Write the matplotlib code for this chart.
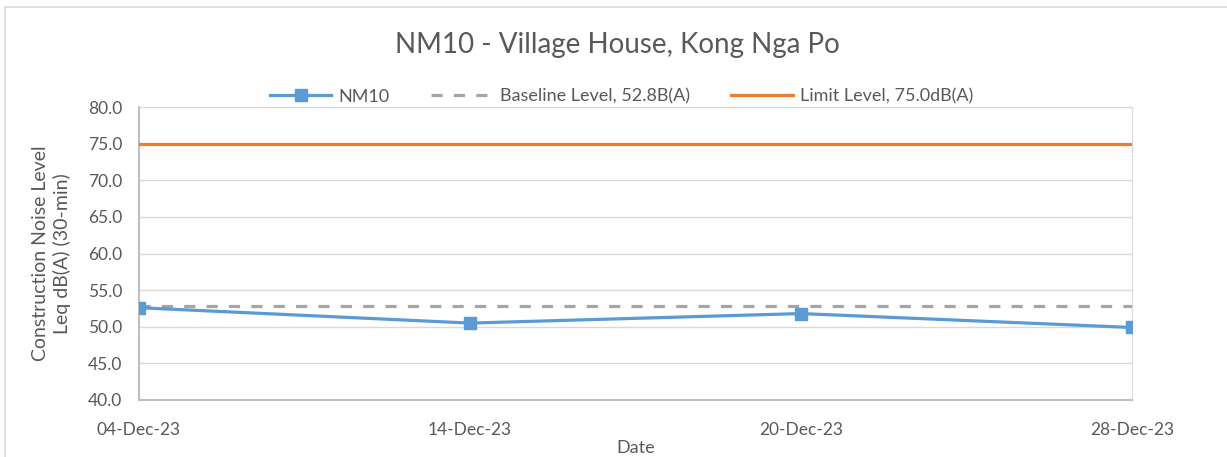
import numpy as np
import matplotlib.pyplot as plt
from matplotlib.patches import Rectangle

# Datos
dates = ["04-Dec-23", "14-Dec-23", "20-Dec-23", "28-Dec-23"]
nm10 = [52.6, 50.5, 51.8, 49.9]
baseline = 52.8
limit = 75.0
y_ticks = [40, 45, 50, 55, 60, 65, 70, 75, 80]

plt.rcParams['font.family'] = ['Lato', 'DejaVu Sans']

fig = plt.figure(figsize=(12.27, 4.57), dpi=100)
ax = fig.add_axes([139 / 1227, 1 - 400 / 457, (1132 - 139) / 1227, (400 - 107) / 457])

# Borde exterior del gráfico
fig.patches.append(Rectangle((5 / 1227, -0.1), 1.2, 1 - 7 / 457 + 0.1,
                             transform=fig.transFigure, fill=False,
                             edgecolor="#d9d9d9", linewidth=1.2))

x = np.arange(len(dates))
ax.plot(x, nm10, color="#5b9bd5", linewidth=2.3, marker="s", markersize=9,
        label="NM10", zorder=4)
ax.plot([x[0], x[-1]], [baseline, baseline], color="#a5a5a5", linewidth=2.3,
        linestyle=(0, (3.5, 3.5)), label="Baseline Level, 52.8B(A)", zorder=3)
ax.plot([x[0], x[-1]], [limit, limit], color="#ed7d31", linewidth=2.3,
        label="Limit Level, 75.0dB(A)", zorder=3)

ax.set_xlim(x[0], x[-1])
ax.set_ylim(40, 80)
ax.set_yticks(y_ticks)
ax.set_yticklabels([f"{v:.1f}" for v in y_ticks])
ax.set_xticks(x)
ax.set_xticklabels(dates)
ax.tick_params(length=0, labelsize=12.5, colors="#595959")
ax.tick_params(axis="x", pad=16)
ax.tick_params(axis="y", pad=12)
ax.grid(axis="y", color="#d9d9d9", linewidth=1)
ax.set_axisbelow(True)

for s in ["top", "right"]:
    ax.spines[s].set_color("#d9d9d9")
for s in ["left", "bottom"]:
    ax.spines[s].set_color("#bfbfbf")
    ax.spines[s].set_linewidth(1.5)

ax.set_xlabel("Date", fontsize=13, color="#595959", labelpad=1)
ax.set_ylabel("Construction Noise Level\nLeq dB(A) (30-min)", fontsize=14,
              color="#595959", labelpad=12, linespacing=1.25)

fig.text(0.503, 1 - 45 / 457, "NM10 - Village House, Kong Nga Po",
         ha="center", va="center", fontsize=20, color="#595959")

ax.legend(loc="center", bbox_to_anchor=(0.486, 1.035), ncol=3, frameon=False,
          fontsize=13, labelcolor="#595959", handlelength=3.4,
          columnspacing=2.3, handletextpad=0.4)

fig.savefig("out.png", dpi=100)
